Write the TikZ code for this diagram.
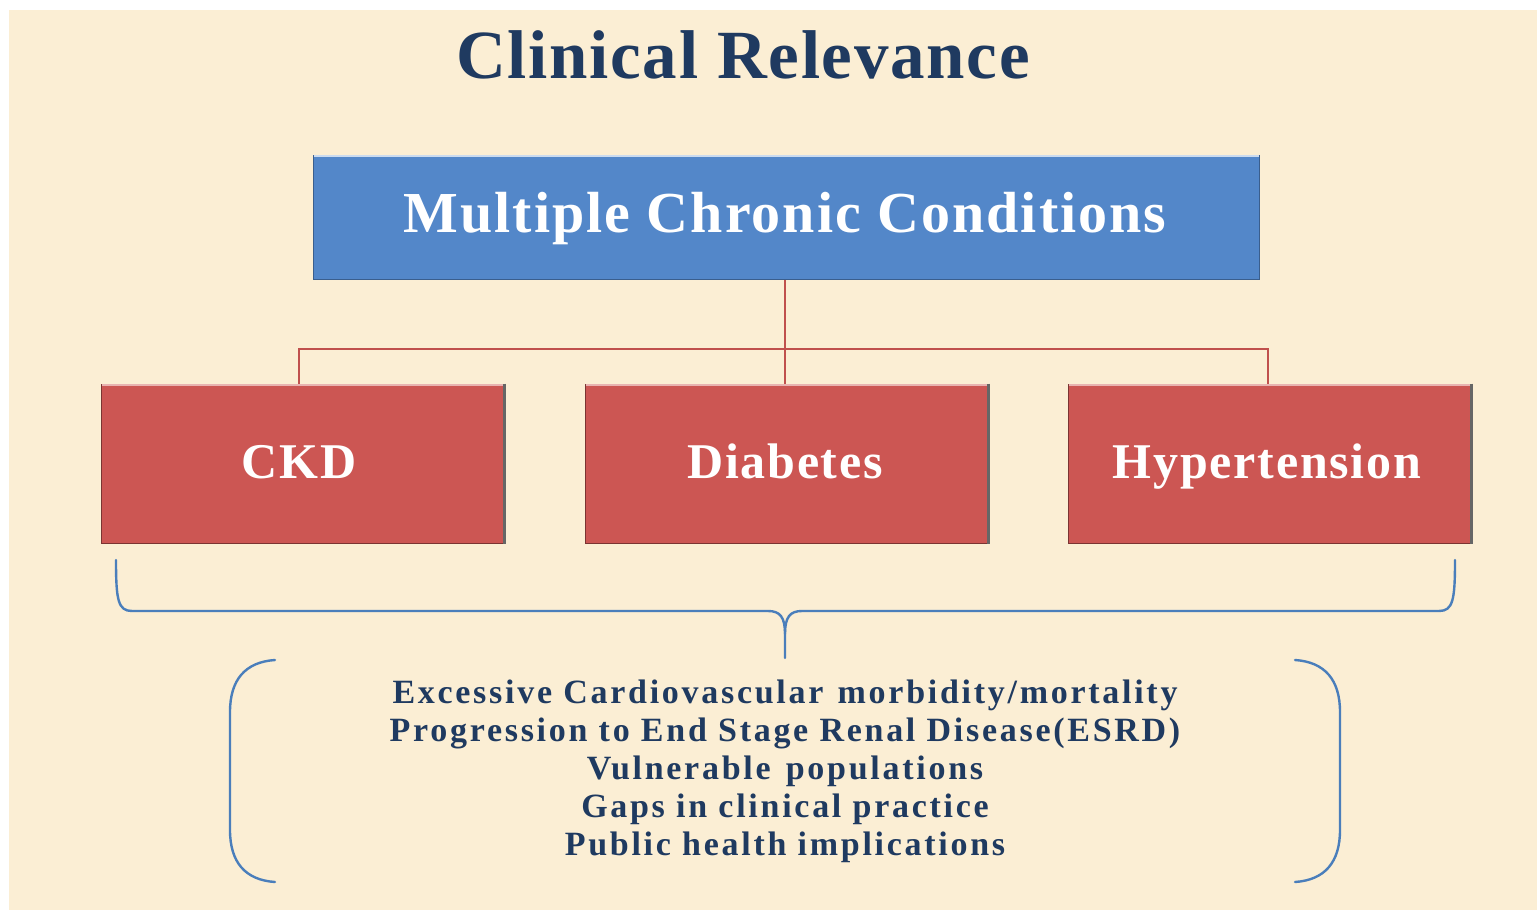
\documentclass[tikz,border=0pt]{standalone}
\usepackage{fontspec}
\setmainfont{Liberation Serif}
\usetikzlibrary{calc}
\definecolor{bgbeige}{HTML}{FBEED4}
\definecolor{boxblue}{HTML}{5387C9}
\definecolor{boxred}{HTML}{CC5653}
\definecolor{linkred}{HTML}{C0504D}
\definecolor{braceblue}{HTML}{4A7EBB}
\definecolor{navy}{HTML}{1F3A60}
\tikzset{
  headbox/.style={fill=boxblue, draw=boxblue!70!black, line width=1pt, minimum width=946pt, minimum height=124pt, inner sep=0pt},
  headtext/.style={text=white, anchor=base, inner sep=0pt, font=\fontsize{58}{60}\selectfont\bfseries\addfontfeatures{LetterSpace=3.5}},
  condbox/.style={fill=boxred, draw=boxred!60!black, line width=1pt, minimum width=404pt, minimum height=159pt, inner sep=0pt},
  condtext/.style={text=white, anchor=base, inner sep=0pt, font=\fontsize{50}{52}\selectfont\bfseries\addfontfeatures{LetterSpace=3.5}},
  link/.style={draw=linkred, line width=2.6pt},
  bracepath/.style={draw=braceblue, line width=2.4pt, line cap=round},
  outcome/.style={text=navy, align=center, font=\fontsize{34}{38}\selectfont\bfseries\addfontfeatures{LetterSpace=8}},
  titletext/.style={text=navy, anchor=base, inner sep=0pt, font=\fontsize{69}{70}\selectfont\bfseries\addfontfeatures{LetterSpace=2.5}}
}
\begin{document}
\begin{tikzpicture}[x=1pt,y=-1pt]
\useasboundingbox (0,0) rectangle (1537,910);
\fill[white] (0,0) rectangle (1537,910);
\fill[bgbeige] (9,10) rectangle (1537,910);
% title
\node[titletext] (title) at (743,78) {Clinical Relevance};
% head box
\node[headbox] (mcc) at (786,217) {};
\node[headtext] (mcct) at (785,232) {Multiple Chronic Conditions};
\draw[white!70!boxblue, line width=2pt] ($(mcc.north west)+(1,1)$) -- ($(mcc.north east)+(-1,1)$);
% condition boxes
\node[condbox] (ckd) at (303,463.5) {};
\node[condbox] (dia) at (787,463.5) {};
\node[condbox] (hyp) at (1270,463.5) {};
\node[condtext] (ckdt) at (299,478) {CKD};
\node[condtext] (diat) at (785,478) {Diabetes};
\node[condtext] (hypt) at (1267,478) {Hypertension};
\foreach \b in {ckd,dia,hyp}{
  \draw[white!55!boxred, line width=2pt] ($(\b.north west)+(1,1)$) -- ($(\b.north east)+(-1,1)$);
  \draw[black!60, line width=3pt] ($(\b.north east)+(-1.5,0)$) -- ($(\b.south east)+(-1.5,0)$);
}
% connectors
\coordinate (hub) at (785,349);
\draw[link] (mcc.south -| hub) -- (dia.north -| hub);
\draw[link] (ckd.north -| 299,0) -- (299,349) -- (1268,349) -- (hyp.north -| 1268,0);
% top brace
\coordinate (tip) at (785,658);
\draw[bracepath] (116,560) .. controls (116,600) and (118,611) .. (132,611)
  -- (768,611) .. controls (780,611) and (785,617) .. (785,634) -- (tip);
\draw[bracepath] (1455,560) .. controls (1455,600) and (1453,611) .. (1439,611)
  -- (802,611) .. controls (790,611) and (785,617) .. (785,634);
% bottom bracket
\draw[bracepath] (275,660) .. controls (245,662) and (230,680) .. (230,712)
  -- (230,830) .. controls (230,862) and (245,880) .. (275,882);
\draw[bracepath] (1295,660) .. controls (1325,662) and (1340,680) .. (1340,712)
  -- (1340,830) .. controls (1340,862) and (1325,880) .. (1295,882);
% outcomes
\node[outcome] (out) at (785,771) {Excessive Cardiovascular\hspace{3pt} morbidity/mortality\\
Progression to End Stage Renal Disease(ESRD)\\
Vulnerable\hspace{4pt} populations\\
Gaps in clinical practice\\
Public health implications};
\end{tikzpicture}
\end{document}
